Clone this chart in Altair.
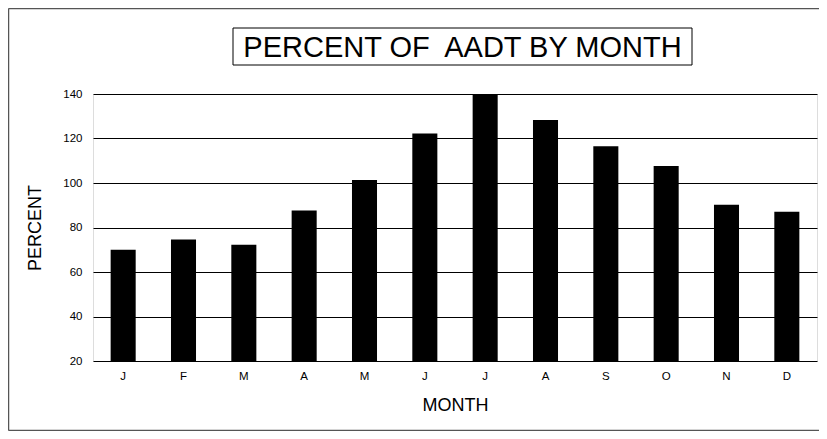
import altair as alt
import pandas as pd

months = ["J", "F", "M", "A", "M", "J", "J", "A", "S", "O", "N", "D"]
percent = [70.0, 74.6, 72.3, 87.6, 101.3, 122.3, 139.7, 128.3, 116.5, 107.6, 90.2, 87.1]
y_ticks = [20, 40, 60, 80, 100, 120, 140]
title_text = ["PERCENT OF\u00a0 AADT BY MONTH"]
x_title = "MONTH"
y_title = "PERCENT"

df = pd.DataFrame({
    "idx": list(range(len(months))),
    "month": months,
    "percent": percent,
})
label_expr = "[" + ",".join('"%s"' % m for m in months) + "][datum.value]"

W, H = 724, 267
PL, PT = 85, 86

bars = alt.Chart(df).mark_bar(color="black").encode(
    x=alt.X("idx:O",
            scale=alt.Scale(paddingInner=0.585, paddingOuter=0.2925),
            axis=alt.Axis(title=x_title, labelExpr=label_expr, labelAngle=0,
                          ticks=False, domain=False, labelPadding=9,
                          labelFontSize=11.5, titleFontSize=18,
                          titleFontWeight="normal", titlePadding=15,
                          labelFont="Liberation Sans", titleFont="Liberation Sans",
                          labelColor="black", titleColor="black")),
    y=alt.Y("percent:Q",
            scale=alt.Scale(domain=[20, 140], zero=False, nice=False),
            axis=alt.Axis(title=y_title, values=y_ticks, ticks=False, domain=False,
                          grid=True, gridColor="black", gridOpacity=1, gridWidth=1,
                          labelPadding=11, labelFontSize=11.5, titleFontSize=18,
                          titleFontWeight="normal", titlePadding=18,
                          labelFont="Liberation Sans", titleFont="Liberation Sans",
                          labelColor="black", titleColor="black")),
    y2=alt.datum(20),
)

tdf = pd.DataFrame({"t": title_text})
title_box = alt.Chart(tdf).mark_rect(fill="white", stroke="black", strokeWidth=1).encode(
    x=alt.value(140), x2=alt.value(599), y=alt.value(-66), y2=alt.value(-29)
)
title_lbl = alt.Chart(tdf).mark_text(
    font="Liberation Sans", fontSize=29, color="black", align="center", baseline="middle"
).encode(x=alt.value(369.5), y=alt.value(-46.5), text="t:N")

frame_left = alt.Chart(tdf).mark_rule(color="#555", strokeWidth=1.5).encode(
    x=alt.value(-84.5), y=alt.value(-85.5), y2=alt.value(336.5))
frame_top = alt.Chart(tdf).mark_rule(color="#555", strokeWidth=1.5).encode(
    x=alt.value(-84.5), x2=alt.value(730), y=alt.value(-85.5))
frame_bottom = alt.Chart(tdf).mark_rule(color="#555", strokeWidth=1.5).encode(
    x=alt.value(-84.5), x2=alt.value(730), y=alt.value(336.5))

chart = alt.layer(frame_left, frame_top, frame_bottom, bars, title_box, title_lbl).properties(
    width=W, height=H,
    autosize=alt.AutoSizeParams(type="none"),
    padding={"left": PL, "top": PT, "right": 2, "bottom": 70},
).configure_view(stroke="black", strokeWidth=1.5).configure(background="white")

chart.save("out.html", embed_options={"renderer": "svg", "actions": False})
